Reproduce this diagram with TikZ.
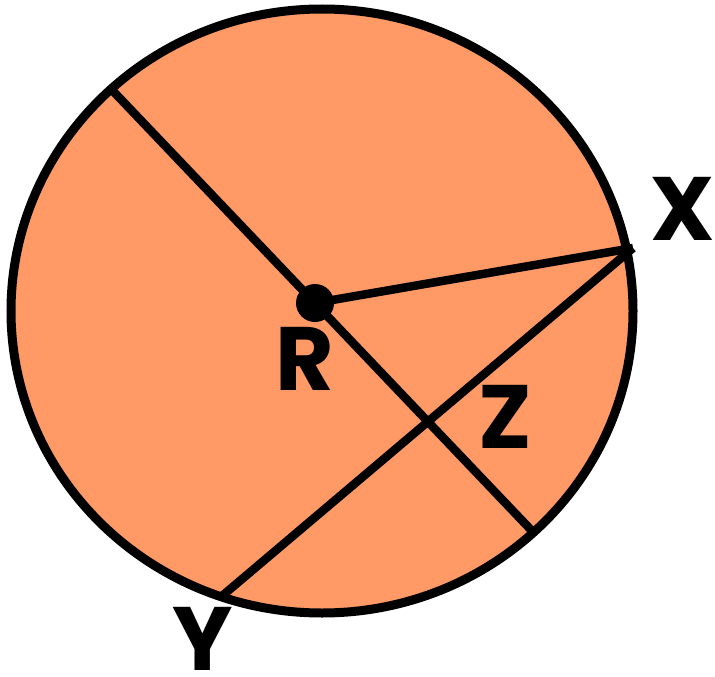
\documentclass[tikz,border=0pt]{standalone}
\usepackage{fontspec}
\setmainfont{Poppins}
\definecolor{disc}{RGB}{255,153,102}
\begin{document}
\begin{tikzpicture}[x=1pt,y=-1pt,
  seg/.style={line width=8.5pt},
  lbl/.style={anchor=base,inner sep=0pt,font=\fontsize{90}{90}\selectfont\bfseries}]
\useasboundingbox (0,0) rectangle (715,677);
\fill[disc] (322,311) ellipse [x radius=311, y radius=302];
\coordinate (A) at (112,90);
\coordinate (B) at (533,532);
\coordinate (R) at (315,303);
\coordinate (X) at (633,248);
\coordinate (Y) at (222,596);
\draw[seg] (A) -- (B);
\draw[seg] (R) -- (X);
\draw[seg] (X) -- (Y);
\draw[line width=9pt] (322,311) ellipse [x radius=311, y radius=302];
\fill (R) circle [radius=19];
\node[lbl] (lR) at (304.5,390) {R};
\node[lbl] (lX) at (683,240) {X};
\node[lbl] (lZ) at (505,448) {Z};
\node[lbl] (lY) at (202.5,670) {Y};
\end{tikzpicture}
\end{document}
